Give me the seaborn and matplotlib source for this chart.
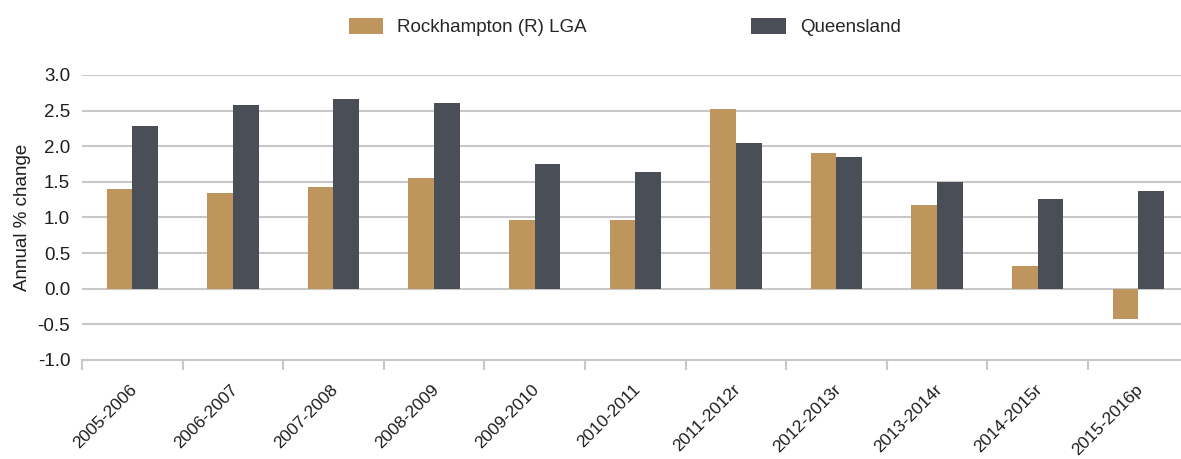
import numpy as np
import pandas as pd
import seaborn as sns
import matplotlib.pyplot as plt
from matplotlib.ticker import FixedLocator
from matplotlib.transforms import ScaledTranslation

periods = ['2005-2006', '2006-2007', '2007-2008', '2008-2009', '2009-2010',
           '2010-2011', '2011-2012r', '2012-2013r', '2013-2014r', '2014-2015r',
           '2015-2016p']
rockhampton = [1.40, 1.35, 1.43, 1.56, 0.97, 0.97, 2.52, 1.91, 1.18, 0.32, -0.42]
queensland = [2.29, 2.58, 2.66, 2.61, 1.75, 1.64, 2.05, 1.85, 1.50, 1.26, 1.37]
series_names = ['Rockhampton (R) LGA', 'Queensland']
colors = ['#BF955E', '#4A4F57']

df = pd.DataFrame({
    'Period': periods * 2,
    'Region': [series_names[0]] * len(periods) + [series_names[1]] * len(periods),
    'Change': rockhampton + queensland,
})

sns.set_style('white')
plt.rcParams['font.family'] = ['Liberation Sans', 'DejaVu Sans']

fig = plt.figure(figsize=(11.81, 4.59), dpi=100)
ax = fig.add_axes([0.0694, 0.2157, 0.937, 0.621])

sns.barplot(data=df, x='Period', y='Change', hue='Region', palette=colors,
            width=0.51, saturation=1, linewidth=0, ax=ax, legend=True)

grid_col = '#C8C8C8'
text_col = '#1E1E1E'
ax.set_ylim(-1.0, 3.0)
ax.set_xlim(-0.5, len(periods) - 0.5)
ax.set_yticks(np.arange(-1.0, 3.01, 0.5))
ax.set_yticklabels(['{:.1f}'.format(v) for v in np.arange(-1.0, 3.01, 0.5)])
ax.yaxis.grid(True, color=grid_col, linewidth=1.5)
ax.set_axisbelow(True)
for s in ['top', 'right', 'left']:
    ax.spines[s].set_visible(False)
ax.spines['bottom'].set_color(grid_col)
ax.spines['bottom'].set_linewidth(1.5)

ax.tick_params(axis='y', length=0, labelsize=13.5, pad=8.5, labelcolor=text_col)
ax.tick_params(axis='x', which='major', length=0, labelsize=12.5, pad=15.5,
               labelcolor=text_col)
ax.xaxis.set_minor_locator(FixedLocator(np.arange(-0.5, len(periods), 1.0)))
ax.tick_params(axis='x', which='minor', bottom=True, length=7.2, width=1.5,
               color=grid_col)
# nudge the rotated labels a little to the left, like the original
shift = ScaledTranslation(-3 / 100, 0, fig.dpi_scale_trans)
for lbl in ax.get_xticklabels():
    lbl.set_rotation(45)
    lbl.set_ha('right')
    lbl.set_va('top')
    lbl.set_rotation_mode('anchor')
    lbl.set_transform(lbl.get_transform() + shift)

ax.set_xlabel('')
ax.set_ylabel('Annual % change', fontsize=13.5, color=text_col, labelpad=5)

handles, labels = ax.get_legend_handles_labels()
ax.legend(handles, labels, loc='center', bbox_to_anchor=(0.529, 0.941),
          bbox_transform=fig.transFigure, ncol=2, frameon=False, fontsize=13.5,
          handlelength=1.85, handleheight=1.0, columnspacing=8.75,
          handletextpad=0.75)

fig.savefig('out.png', dpi=100)
